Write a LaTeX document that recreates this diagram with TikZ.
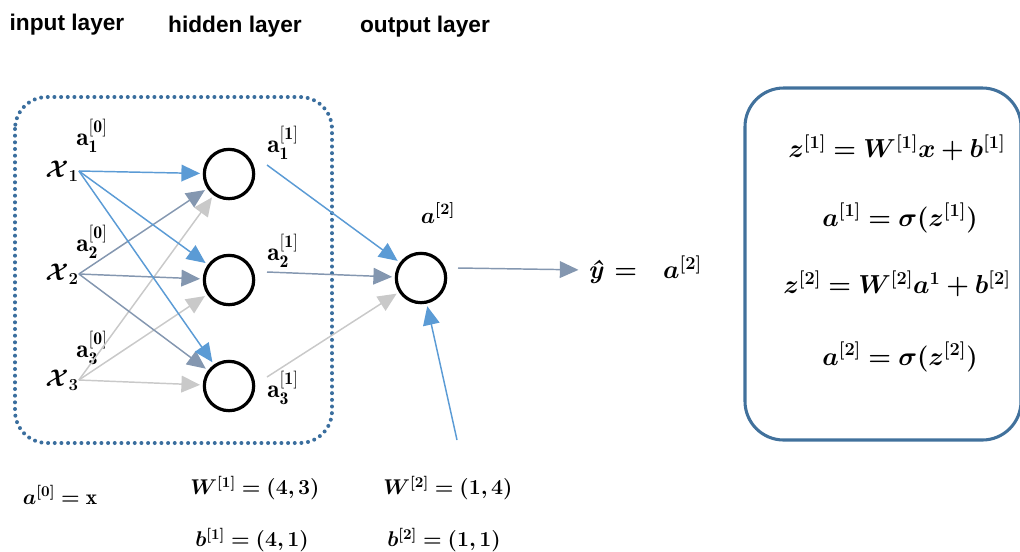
\RequirePackage{fix-cm}
\documentclass[tikz,border=0pt]{standalone}
\usepackage{amsmath}
\usepackage{bm}
\usepackage{fontspec}
\setsansfont{Liberation Sans}
\usetikzlibrary{arrows.meta}
\definecolor{cblue}{HTML}{5B9BD5}
\definecolor{cgblue}{HTML}{8497B0}
\definecolor{cgray}{HTML}{C9C9C9}
\definecolor{cbox}{HTML}{41719C}
\definecolor{cdot}{HTML}{3A6E9E}
\begin{document}
\begin{tikzpicture}[x=0.75pt,y=-0.75pt,
  hdr/.style={font=\sffamily\bfseries\fontsize{17}{20}\selectfont, inner sep=0pt},
  neuron/.style={circle, draw=black, line width=2.4pt, minimum size=37pt, inner sep=0pt},
  inlab/.style={font=\fontsize{18}{22}\selectfont, inner sep=0pt},
  alab/.style={font=\fontsize{19}{22}\selectfont, inner sep=0pt},
  eq/.style={font=\fontsize{19.5}{23}\selectfont, inner sep=0pt},
  beq/.style={font=\fontsize{16}{19}\selectfont, inner sep=0pt},
  conn/.style={line width=1.1pt, -{Triangle[length=14pt,width=12.5pt]}, shorten >=2pt},
  dotbox/.style={draw=cdot, line width=3pt, line cap=round, dash pattern=on 0pt off 5pt, rounded corners=24pt},
  eqbox/.style={draw=cbox, line width=2.3pt, rounded corners=29pt}
]
\useasboundingbox (0,0) rectangle (1020,551);

% headers
\node[hdr] (t1) at (67,25) {input layer};
\node[hdr] (t2) at (235,27) {hidden layer};
\node[hdr] (t3) at (425,27) {output layer};

% dotted frame
\draw[dotbox] (15,97) rectangle (332,443);

% neurons
\node[neuron] (h1) at (229,174) {};
\node[neuron] (h2) at (229,280) {};
\node[neuron] (h3) at (229,386) {};
\node[neuron] (o) at (421,278) {};

% inputs
\node[inlab] (x1) at (62,171) {$\bm{\mathcal{X}_{1}}$};
\node[inlab] (x2) at (62,274) {$\bm{\mathcal{X}_{2}}$};
\node[inlab] (x3) at (62,380) {$\bm{\mathcal{X}_{3}}$};

\node[alab] (a01) at (92,136) {$\mathbf{a}^{\mathbf{[0]}}_{\mathbf{1}}$};
\node[alab] (a02) at (92,242) {$\mathbf{a}^{\mathbf{[0]}}_{\mathbf{2}}$};
\node[alab] (a03) at (92,348) {$\mathbf{a}^{\mathbf{[0]}}_{\mathbf{3}}$};
\node[alab] (a11) at (283,143) {$\mathbf{a}^{\mathbf{[1]}}_{\mathbf{1}}$};
\node[alab] (a12) at (283,251) {$\mathbf{a}^{\mathbf{[1]}}_{\mathbf{2}}$};
\node[alab] (a13) at (283,388) {$\mathbf{a}^{\mathbf{[1]}}_{\mathbf{3}}$};

% input -> hidden
\draw[conn, draw=cgray, fill=cgray] (x3.east) -- (h1);
\draw[conn, draw=cgray, fill=cgray] (x3.east) -- (h2);
\draw[conn, draw=cgray, fill=cgray] (x3.east) -- (h3);
\draw[conn, draw=cgblue, fill=cgblue] (x2.east) -- (h1);
\draw[conn, draw=cgblue, fill=cgblue] (x2.east) -- (h2);
\draw[conn, draw=cgblue, fill=cgblue] (x2.east) -- (h3);
\draw[conn, draw=cblue, fill=cblue] (x1.east) -- (h1);
\draw[conn, draw=cblue, fill=cblue] (x1.east) -- (h2);
\draw[conn, draw=cblue, fill=cblue] (x1.east) -- (h3);

% hidden -> output
\coordinate (s1) at (267,165);
\coordinate (s2) at (267,272);
\coordinate (s3) at (267,377);
\draw[conn, draw=cgray, fill=cgray] (s3) -- (o);
\draw[conn, draw=cgblue, fill=cgblue] (s2) -- (o);
\draw[conn, draw=cblue, fill=cblue] (s1) -- (o);

% bias
\coordinate (bb) at (457,440);
\draw[conn, draw=cblue, fill=cblue] (bb) -- (o);

\node[font=\fontsize{17}{20}\selectfont, inner sep=0pt] (la2) at (438,213) {$\bm{a^{[2]}}$};

% output
\node[eq] (yh) at (645,270) {{\bfseries\itshape ŷ}\hspace{0.45em}$\bm{=\;\;\, a^{[2]}}$};
\coordinate (oo) at (458,268);
\draw[conn, draw=cgblue, fill=cgblue, shorten >=7pt] (oo) -- (yh.west);

% equations box
\draw[eqbox] (745,88) rectangle (1021,440);
\node[eq] (e1) at (897,148) {$\bm{z^{[1]} = W^{[1]}x + b^{[1]}}$};
\node[eq] (e2) at (900,218) {$\bm{a^{[1]} = \sigma(z^{[1]})}$};
\node[eq] (e3) at (897,284) {$\bm{z^{[2]} = W^{[2]}a^{1} + b^{[2]}}$};
\node[eq] (e4) at (900,357) {$\bm{a^{[2]} = \sigma(z^{[2]})}$};

% bottom
\node[beq] (b0) at (60,495) {$\bm{a^{[0]} =} \mathbf{x}$};
\node[beq] (w1) at (255,488) {$\bm{W^{[1]} = (4,3)}$};
\node[beq] (w2) at (448,488) {$\bm{W^{[2]} = (1,4)}$};
\node[beq] (b1) at (252,540) {$\bm{b^{[1]} = (4,1)}$};
\node[beq] (b2) at (444,540) {$\bm{b^{[2]} = (1,1)}$};
\end{tikzpicture}
\end{document}
